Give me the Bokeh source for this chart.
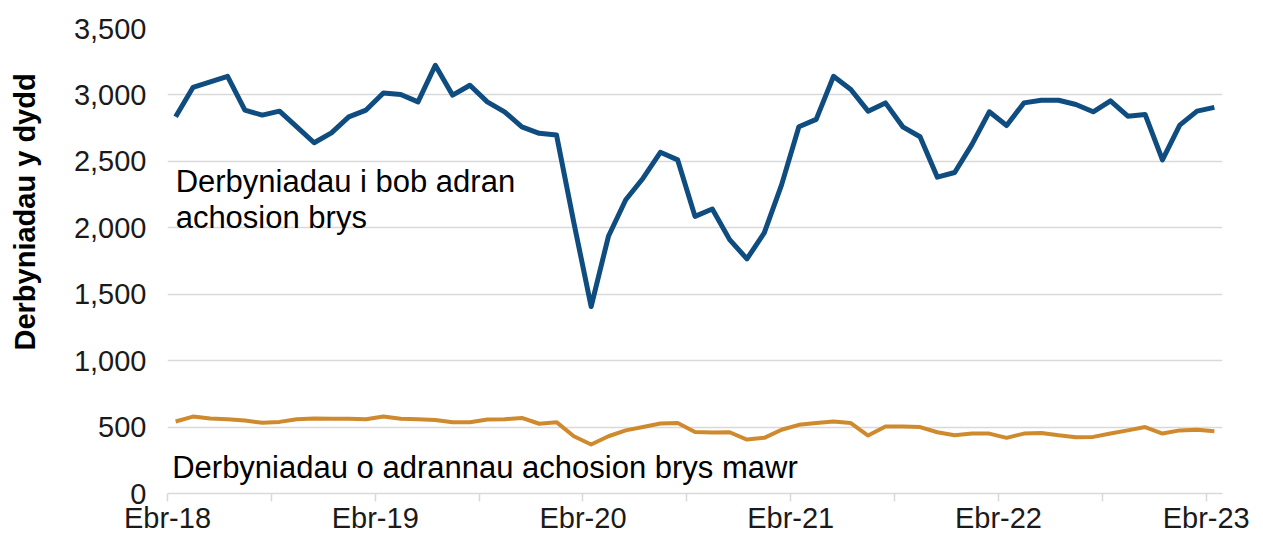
from bokeh.plotting import figure
from bokeh.models import FixedTicker, NumeralTickFormatter, Label, Title, Range1d
from bokeh.embed import file_html
from bokeh.resources import INLINE

# Monthly values, Apr-2018 .. Apr-2023 (61 months)
all_type1 = [2835, 3056, 3098, 3140, 2886, 2848, 2878, 2760, 2640, 2715, 2835, 2886,
             3015, 3003, 2948, 3223, 2998, 3073, 2948, 2873, 2760, 2711, 2698, 2040,
             1407, 1936, 2211, 2373, 2568, 2511, 2086, 2141, 1911, 1766, 1961, 2323,
             2760, 2816, 3140, 3041, 2878, 2940, 2760, 2685, 2381, 2416, 2628, 2873,
             2770, 2940, 2960, 2960, 2928, 2873, 2955, 2840, 2853, 2511, 2773, 2878,
             2906]
major_ed = [542, 579, 564, 559, 549, 532, 539, 559, 564, 562, 562, 559,
            579, 562, 559, 554, 537, 537, 557, 559, 569, 525, 537, 431,
            369, 431, 475, 500, 527, 530, 463, 460, 461, 406, 419, 480,
            517, 530, 542, 530, 436, 505, 505, 500, 461, 438, 451, 451,
            419, 451, 456, 438, 424, 426, 451, 475, 500, 451, 475, 480,
            468]
year_labels = ["Ebr-18", "Ebr-19", "Ebr-20", "Ebr-21", "Ebr-22", "Ebr-23"]
series_labels = ["Derbyniadau i bob adran", "achosion brys",
                 "Derbyniadau o adrannau achosion brys mawr"]
y_title = "Derbyniadau y dydd"

months = list(range(len(all_type1)))
# data points are mid-month; axis ticks sit on the 1st of the month
tick_offset = -0.47
major_ticks = [tick_offset + 12 * k for k in range(len(year_labels))]
minor_ticks = [tick_offset + 6 + 12 * k for k in range(len(year_labels) - 1)]

FONT = "Liberation Sans"

p = figure(width=1255, height=536, output_backend="svg", toolbar_location=None,
           x_range=Range1d(tick_offset, len(months) - 1 - tick_offset),
           y_range=Range1d(0, 3500),
           min_border_left=167, min_border_right=33, min_border_top=28,
           min_border_bottom=41)
p.outline_line_color = None
p.background_fill_color = "white"
p.border_fill_color = "white"

p.line(months, all_type1, line_color="#0F4C7F", line_width=5, line_join="round")
p.line(months, major_ed, line_color="#CF8A2E", line_width=4, line_join="round")

# grid
p.xgrid.grid_line_color = None
p.ygrid.grid_line_color = "#D9D9D9"
p.ygrid.grid_line_width = 1.5
p.yaxis.ticker = FixedTicker(ticks=list(range(0, 3501, 500)))
p.yaxis.formatter = NumeralTickFormatter(format="0,0")
p.yaxis.axis_line_color = None
p.yaxis.major_tick_line_color = None
p.yaxis.minor_tick_line_color = None
p.yaxis.major_label_text_font = FONT
p.yaxis.major_label_text_font_size = "29px"
p.yaxis.major_label_text_color = "#1a1a1a"
p.yaxis.major_label_standoff = 15

p.xaxis.ticker = FixedTicker(ticks=major_ticks, minor_ticks=minor_ticks)
p.xaxis.major_label_overrides = {t: lab for t, lab in zip(major_ticks, year_labels)}
p.xaxis.axis_line_color = "#D9D9D9"
p.xaxis.axis_line_width = 1.5
p.xaxis.major_tick_line_color = "#D9D9D9"
p.xaxis.minor_tick_line_color = "#D9D9D9"
p.xaxis.major_tick_line_width = 1.5
p.xaxis.minor_tick_line_width = 1.5
p.xaxis.major_tick_out = 8
p.xaxis.major_tick_in = 0
p.xaxis.minor_tick_out = 8
p.xaxis.minor_tick_in = 0
p.xaxis.major_label_text_font = FONT
p.xaxis.major_label_text_font_size = "29px"
p.xaxis.major_label_text_color = "#1a1a1a"
p.xaxis.major_label_standoff = 0

# spacer between the tick labels and the y title
p.add_layout(Title(text=" ", text_font_size="21px", standoff=0), "left")
# y title
p.add_layout(Title(text=y_title, align="left", offset=143, text_font=FONT,
                   text_font_size="29px", text_font_style="bold",
                   text_color="#000000"), "left")

# series annotations
p.add_layout(Label(x=0.0, y=2345, text=series_labels[0], text_font=FONT,
                   text_font_size="31px", text_color="#000000",
                   text_baseline="alphabetic"))
p.add_layout(Label(x=0.0, y=2075, text=series_labels[1], text_font=FONT,
                   text_font_size="31px", text_color="#000000",
                   text_baseline="alphabetic"))
p.add_layout(Label(x=-0.2, y=195, text=series_labels[2], text_font=FONT,
                   text_font_size="31px", text_color="#000000",
                   text_baseline="alphabetic"))

open("out.html", "w").write(file_html(p, INLINE))
